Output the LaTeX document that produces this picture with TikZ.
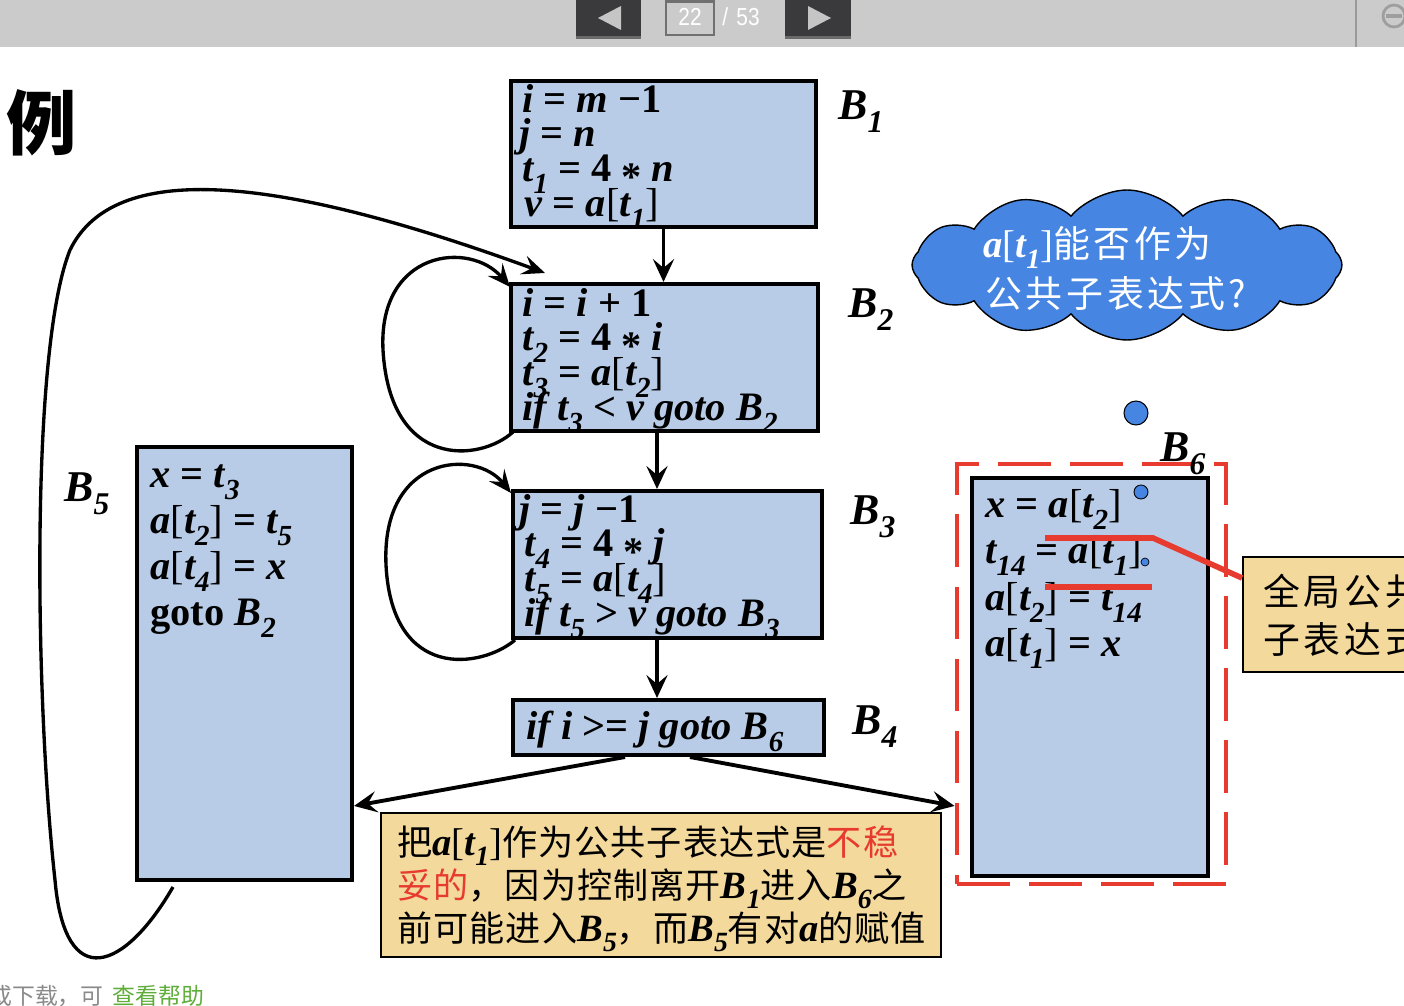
\documentclass[tikz,border=0pt]{standalone}
\usepackage{fontspec}
\usepackage{graphicx}
\setmainfont{Liberation Serif}
\newfontfamily\cjk{Noto Sans CJK SC}
\newfontfamily\cjkw[LetterSpace=10]{Noto Sans CJK SC}
\newfontfamily\cjkn[LetterSpace=3]{Noto Sans CJK SC}
\newfontfamily\uisans{Liberation Sans}
\usetikzlibrary{arrows.meta,shapes.symbols,calc}
\definecolor{boxblue}{HTML}{B8CCE8}
\definecolor{tanc}{HTML}{F4D99C}
\definecolor{cloudblue}{HTML}{4685E2}
\definecolor{myred}{HTML}{E63B2E}
\definecolor{uibar}{HTML}{CBCBCB}
\definecolor{btn}{HTML}{3A3A3D}
\definecolor{btnedge}{HTML}{6A6A6A}
\definecolor{tri}{HTML}{C5C5C5}
\definecolor{pagebox}{HTML}{707070}
\definecolor{sepc}{HTML}{9A9A9A}
\definecolor{uigray}{HTML}{8A8A8A}
\definecolor{uigreen}{HTML}{5FAE3A}
\newcommand\sbs[1]{\raisebox{-0.28em}{\scalebox{0.72}{#1}}}
\newcommand\Upr[1]{\textup{#1}}
\newcommand\LBr{\textup{\mdseries[}}
\newcommand\RBr{\textup{\mdseries]}}
\newcommand\astk{\raisebox{-0.22em}{*}}
\newcommand\lt[1]{{\fontsize{22}{22}\selectfont\rmfamily\bfseries\itshape #1}}
\tikzset{
  blk/.style={draw, line width=2.3pt, fill=boxblue, inner sep=0pt, rectangle},
  tanbox/.style={draw, line width=1.1pt, fill=tanc, inner sep=0pt, rectangle},
  code/.style={anchor=base west, inner sep=0pt, font=\fontsize{23}{23}\selectfont\bfseries\itshape},
  lbl/.style={anchor=base west, inner sep=0pt, font=\fontsize{25}{25}\selectfont\bfseries\itshape},
  cn/.style={anchor=base west, inner sep=0pt, font=\fontsize{20}{20}\selectfont\cjkn},
  cnw/.style={anchor=base west, inner sep=0pt, font=\fontsize{21}{21}\selectfont\cjkw},
  arr/.style={line width=2.2pt, -{Stealth[length=13pt,width=12pt,inset=5pt]}},
  loopc/.style={line width=1.9pt, -{Stealth[length=13pt,width=11pt,inset=5pt]}},
  uitext/.style={inner sep=0pt, text=white, font=\fontsize{14}{14}\selectfont\uisans},
  redl/.style={draw=myred, line width=3.2pt},
}
\begin{document}
\begin{tikzpicture}[x=0.02cm,y=-0.02cm]
\useasboundingbox (0,0) rectangle (1404,1006);
\clip (0,0) rectangle (1404,1006);
\fill[white] (0,0) rectangle (1404,1006);
% ---- viewer toolbar ----
\fill[uibar] (0,0) rectangle (1404,47);
\fill[btnedge] (576,0) rectangle (641,39);
\fill[btn] (576,0) rectangle (641,36);
\fill[tri] (598,18) -- (621,6) -- (621,30) -- cycle;
\fill[btnedge] (785,0) rectangle (851,39);
\fill[btn] (785,0) rectangle (851,36);
\fill[tri] (831,18) -- (808,6) -- (808,30) -- cycle;
\draw[pagebox, line width=1.2pt] (666,1.5) rectangle (714,35);
\node[uitext] (pg) at (690,17) {\scalebox{0.85}[1]{22}};
\node[uitext] (tot) at (741,17) {\scalebox{0.85}[1]{/\hspace{0.4em}53}};
\draw[sepc, line width=1pt] (1356,0) -- (1356,47);
\draw[tri!80!black, line width=1.6pt] (1394,16) circle (11);
\draw[tri!80!black, line width=2.5pt] (1386,16) -- (1402,16);
% ---- title ----
\node[inner sep=0pt, font=\fontsize{40}{40}\selectfont\cjk\bfseries] (li) at (42,123) {例};
% ---- blocks ----
\node[blk, minimum width=305*0.02cm, minimum height=146*0.02cm] (b1) at (663.5,154) {};
\node[blk, minimum width=307*0.02cm, minimum height=147*0.02cm] (b2) at (664.5,357.5) {};
\node[blk, minimum width=309*0.02cm, minimum height=147*0.02cm] (b3) at (667.5,564.5) {};
\node[blk, minimum width=311*0.02cm, minimum height=55*0.02cm] (b4) at (668.5,727.5) {};
\node[blk, minimum width=215*0.02cm, minimum height=433*0.02cm] (b5) at (244.5,663.5) {};
\node[blk, minimum width=236*0.02cm, minimum height=398*0.02cm] (b6) at (1090,677) {};
\node[draw=myred, line width=2.8pt, dash pattern=on 30pt off 11pt, rectangle, inner sep=0pt,
      minimum width=269*0.02cm, minimum height=420*0.02cm] (b6d) at (1091.5,674) {};
% ---- block texts ----
\node[code] (b1a) at (522,113) {i \Upr{=} m \Upr{−1}};
\node[code] (b1b) at (519,147) {j \Upr{=} n};
\node[code] (b1c) at (522,182) {t\sbs{1} \Upr{= 4 \astk{}} n};
\node[code] (b1d) at (524,217) {v \Upr{=} a\LBr t\sbs{1}\RBr};
\node[code] (b2a) at (522,317) {i \Upr{=} i \Upr{+ 1}};
\node[code] (b2b) at (522,351) {t\sbs{2} \Upr{= 4 \astk{}} i};
\node[code] (b2c) at (522,386) {t\sbs{3} \Upr{=} a\LBr t\sbs{2}\RBr};
\node[code] (b2d) at (522,421) {if t\sbs{3} \Upr{<} v goto B\sbs{2}};
\node[code] (b3a) at (519,523) {j \Upr{=} j \Upr{−1}};
\node[code] (b3b) at (524,557) {t\sbs{4} \Upr{= 4 \astk{}} j};
\node[code] (b3c) at (524,592) {t\sbs{5} \Upr{=} a\LBr t\sbs{4}\RBr};
\node[code] (b3d) at (524,627) {if t\sbs{5} \Upr{>} v goto B\sbs{3}};
\node[code] (b4a) at (526,740) {if i \Upr{>=} j goto B\sbs{6}};
\node[code] (b5a) at (150,488) {x \Upr{=} t\sbs{3}};
\node[code] (b5b) at (150,534) {a\LBr t\sbs{2}\RBr{} \Upr{=} t\sbs{5}};
\node[code] (b5c) at (150,580) {a\LBr t\sbs{4}\RBr{} \Upr{=} x};
\node[code] (b5d) at (150,626) {\Upr{goto} B\sbs{2}};
\node[code] (b6a) at (985,518) {x \Upr{=} a\LBr t\sbs{2}\RBr};
\node[code] (b6b) at (985,564) {t\sbs{14} \Upr{=} a\LBr t\sbs{1}\RBr};
\node[code] (b6c) at (985,611) {a\LBr t\sbs{2}\RBr{} \Upr{=} t\sbs{14}};
\node[code] (b6e) at (985,657) {a\LBr t\sbs{1}\RBr{} \Upr{=} x};
% ---- labels ----
\node[lbl] (lb1) at (838,120) {B\sbs{1}};
\node[lbl] (lb2) at (848,318) {B\sbs{2}};
\node[lbl] (lb3) at (850,525) {B\sbs{3}};
\node[lbl] (lb4) at (852,735) {B\sbs{4}};
\node[lbl] (lb5) at (64,502) {B\sbs{5}};
\node[lbl] (lb6) at (1160,462) {B\sbs{6}};
% ---- dots ----
\node[circle, draw=black, line width=0.6pt, fill=cloudblue, minimum size=24*0.02cm, inner sep=0pt] (d1) at (1136,413) {};
\node[circle, draw=black, line width=0.5pt, fill=cloudblue, minimum size=14*0.02cm, inner sep=0pt] (d2) at (1141,492) {};
\node[circle, draw=black, line width=0.4pt, fill=cloudblue, minimum size=8*0.02cm, inner sep=0pt] (d3) at (1145,562) {};
% ---- flow arrows ----
\draw[arr] (b1.south) -- (b1.south |- b2.north);
\draw[arr] ([xshift=-0.15cm]b2.south) -- ([xshift=-0.15cm]b2.south |- b3.north);
\draw[arr] ([xshift=-0.21cm]b3.south) -- ([xshift=-0.21cm]b3.south |- b4.north);
\draw[arr] ([xshift=-0.87cm]b4.south) -- ([yshift=-2.85cm]b5.east);
\draw[arr] ([xshift=0.43cm]b4.south) -- ([yshift=-2.64cm]b6d.west);
% ---- loops ----
\coordinate (l2s) at (513,432);
\coordinate (l2e) at (510,287);
\draw[loopc] (l2s) .. controls (480,462) and (390,470) .. (383,350) .. controls (378,250) and (470,240) .. (l2e);
\coordinate (l3s) at (515,640);
\coordinate (l3e) at (511,493);
\draw[loopc] (l3s) .. controls (482,668) and (392,682) .. (386,565) .. controls (381,455) and (475,448) .. (l3e);
\coordinate (l5s) at (173,887);
\coordinate (l5e) at (545,273);
\draw[loopc] (l5s) .. controls (125,970) and (65,995) .. (55,880) .. controls (35,700) and (30,350) .. (70,250) .. controls (110,168) and (250,165) .. (l5e);
% ---- cloud ----
\node[cloud, cloud puffs=12, cloud puff arc=100, aspect=2.9, draw=black, line width=0.8pt, fill=cloudblue,
      minimum width=8.6cm, minimum height=3.0cm, inner sep=0pt] (cl) at (1127,265) {};
\node[cnw, text=white] (cl1) at (983,258) {\lt{a\LBr t\sbs{1}\RBr}能否作为};
\node[cnw, text=white] (cl2) at (985,308) {公共子表达式?};
% ---- note boxes ----
\node[tanbox, minimum width=560*0.02cm, minimum height=144*0.02cm] (nb) at (661,885) {};
\node[cn] (nb1) at (397,855) {把\lt{a\LBr t\sbs{1}\RBr}作为公共子表达式是\textcolor{myred}{不稳}};
\node[cn] (nb2) at (397,898) {\textcolor{myred}{妥的}，因为控制离开\lt{B\sbs{1}}进入\lt{B\sbs{6}}之};
\node[cn] (nb3) at (397,941) {前可能进入\lt{B\sbs{5}}，而\lt{B\sbs{5}}有对\lt{a}的赋值};
\node[tanbox, minimum width=187*0.02cm, minimum height=115*0.02cm] (rb) at (1336.5,614.5) {};
\node[cnw] (rb1) at (1263,606) {全局公共};
\node[cnw] (rb2) at (1263,654) {子表达式};
% ---- red marks ----
\coordinate (r1s) at (1045,538);
\coordinate (r1m) at (1153,538);
\coordinate (r2s) at (1045,587);
\coordinate (r2e) at (1152,587);
\draw[redl] (r1s) -- (r1m) -- ([yshift=0.73cm]rb.west);
\draw[redl] (r2s) -- (r2e);
% ---- footer ----
\node[anchor=base west, inner sep=0pt, font=\fontsize{13}{13}\selectfont\cjk, text=uigray] (ft) at (-11,1004) {或下载，可\hspace{0.4em}\textcolor{uigreen}{查看帮助}};
\end{tikzpicture}
\end{document}
